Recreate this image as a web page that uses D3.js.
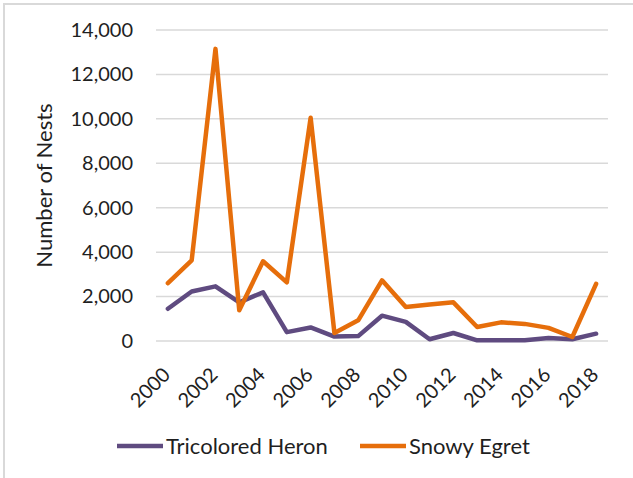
<!DOCTYPE html>
<html>
<head>
<meta charset="utf-8">
<script src="https://cdnjs.cloudflare.com/ajax/libs/d3/7.8.5/d3.min.js"></script>
<style>
  body { margin: 0; background: #fff; }
  text { font-family: Lato, "Open Sans", sans-serif; fill: #1f1f1f; }
</style>
</head>
<body>
<div id="root"></div>
<script>
// years on the x axis
var years = [2000, 2001, 2002, 2003, 2004, 2005, 2006, 2007, 2008, 2009,
             2010, 2011, 2012, 2013, 2014, 2015, 2016, 2017, 2018];
var yearLabels = [2000, 2002, 2004, 2006, 2008, 2010, 2012, 2014, 2016, 2018];

// nest counts
var tricoloredHeron = [1450, 2230, 2460, 1740, 2190, 400, 610, 200, 220, 1140,
                       860, 80, 360, 30, 30, 30, 130, 80, 330];
var snowyEgret = [2600, 3630, 13150, 1380, 3590, 2640, 10050, 360, 930, 2730,
                  1530, 1640, 1740, 630, 840, 770, 590, 180, 2570];

var yTicks = [0, 2000, 4000, 6000, 8000, 10000, 12000, 14000];
var seriesNames = ["Tricolored Heron", "Snowy Egret"];
var seriesColors = ["#5f4b80", "#e66e0b"];

var w = 633;
var h = 478;
var margin = {top: 30, right: 25, bottom: 137, left: 156};

var svg = d3.select("#root").append("svg").attr("width", w).attr("height", h);

// chart frame (only left and top edges show)
svg.append("rect").attr("x", 4).attr("y", 4).attr("width", w + 10).attr("height", h + 10)
  .style("fill", "none").style("stroke", "#d9d9d9").style("stroke-width", 2);

var x = d3.scalePoint().domain(years).range([margin.left, w - margin.right]).padding(0.5);
var y = d3.scaleLinear().domain([0, 14000]).range([h - margin.bottom, margin.top]);

// gridlines
svg.append("g").selectAll("line").data(yTicks).enter().append("line")
  .attr("x1", margin.left).attr("x2", w - margin.right)
  .attr("y1", function(d) { return y(d); }).attr("y2", function(d) { return y(d); })
  .style("stroke", "#d9d9d9").style("stroke-width", 1.5);

// y axis labels
var yAxis = d3.axisLeft(y).tickValues(yTicks).tickFormat(d3.format(",")).tickSize(0).tickPadding(23);
var gy = svg.append("g").attr("transform", "translate(" + margin.left + ",0)").call(yAxis);
gy.select(".domain").remove();
gy.selectAll("text").style("font-size", "20px").style("fill", "#1f1f1f")
  .style("font-family", "Lato, 'Open Sans', sans-serif");

// x axis labels, rotated
var xAxis = d3.axisBottom(x).tickValues(yearLabels).tickSize(0);
var gx = svg.append("g").attr("transform", "translate(0," + y(0) + ")").call(xAxis);
gx.select(".domain").remove();
gx.selectAll("text")
  .attr("y", 0).attr("dy", 0)
  .attr("transform", "translate(3,35) rotate(-45)")
  .style("text-anchor", "end").style("font-size", "20px").style("fill", "#1f1f1f")
  .style("font-family", "Lato, 'Open Sans', sans-serif");

// y axis title
svg.append("text")
  .attr("transform", "translate(52," + ((y(0) + y(14000)) / 2) + ") rotate(-90)")
  .attr("text-anchor", "middle").style("font-size", "22px")
  .text("Number of Nests");

// lines
var line = d3.line()
  .x(function(d, i) { return x(years[i]); })
  .y(function(d) { return y(d); });

[tricoloredHeron, snowyEgret].forEach(function(s, i) {
  svg.append("path").datum(s).attr("d", line)
    .style("fill", "none").style("stroke", seriesColors[i])
    .style("stroke-width", 4.5).style("stroke-linejoin", "round").style("stroke-linecap", "round");
});

// legend
var legendX = [117, 360];
var legend = svg.append("g").selectAll("g").data(seriesNames).enter().append("g")
  .attr("transform", function(d, i) { return "translate(" + legendX[i] + ",446)"; });
legend.append("line").attr("x1", 0).attr("x2", 46).attr("y1", 0).attr("y2", 0)
  .style("stroke", function(d, i) { return seriesColors[i]; }).style("stroke-width", 4.5);
legend.append("text").attr("x", 49).attr("y", 7.5).style("font-size", "22px")
  .text(function(d) { return d; });
</script>
</body>
</html>
